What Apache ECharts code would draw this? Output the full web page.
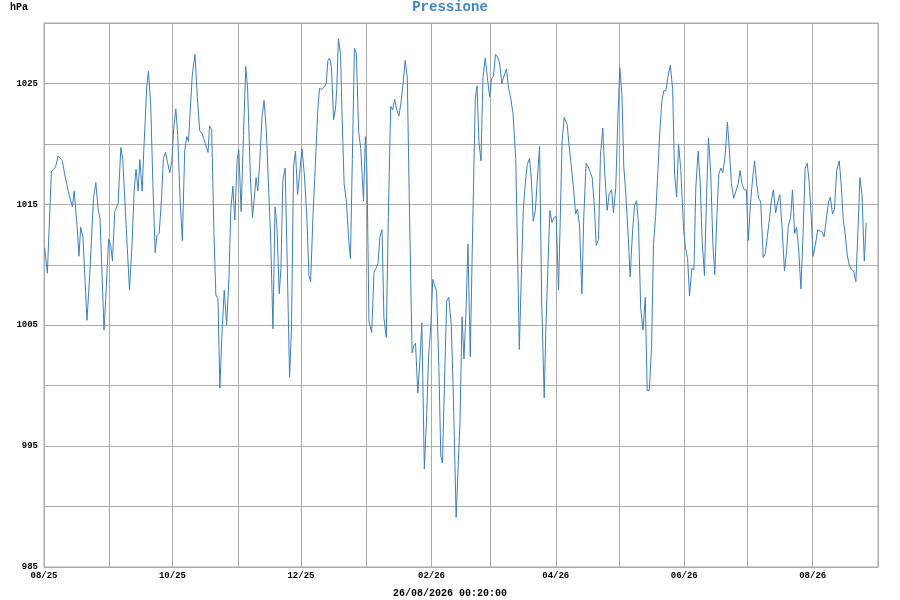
<!DOCTYPE html>
<html>
<head>
  <meta charset="utf-8">
  <title>Pressione</title>
  <script src="https://cdn.jsdelivr.net/npm/echarts@6/dist/echarts.min.js"></script>
  <style>
    html, body { margin: 0; padding: 0; background: #fff; }
    #main { width: 900px; height: 600px; }
  </style>
</head>
<body>
<div id="main"></div>
<script>
  // giorni dal 01/08/2025
  var days = [
    0.3, 1.6, 3.5, 4.4, 5.5, 6.7, 7.6, 8.7, 9.8, 11.9, 13.5, 14.3, 15.5, 16.6, 17.4, 18.5, 20.4, 21.7, 23.5, 24.6,
    25.7, 26.6, 28.5, 29.6, 30.7, 31.7, 32.5, 33.6, 35.2, 36.5, 37.4, 39.1, 40.6, 41.8, 42.8, 43.7, 44.7, 45.5, 46.6, 47.5,
    48.8, 49.6, 50.7, 51.7, 52.8, 53.6, 54.7, 55.8, 56.7, 57.7, 59.7,
    60.7, 61.6, 62.6, 63.5, 64.6, 65.7, 66.8, 67.8, 68.6, 69.5, 70.4, 71.7, 72.8, 73.9, 75.2, 76.1, 77.9, 78.6, 79.6, 80.7,
    81.6, 82.6, 83.5, 84.6, 85.6, 86.7, 87.8, 88.7, 89.7, 90.6, 91.7, 92.5, 93.6, 94.7, 95.8, 96.7, 98.0, 99.0, 99.7, 100.7,
    101.5, 102.4, 103.5, 104.5, 105.6, 106.7, 107.6, 108.7, 109.7, 110.6, 111.7, 112.5, 113.4, 114.5, 115.5, 116.6, 117.5, 118.5, 119.4, 120.4,
    121.3,
    122.5, 123.6, 124.8, 125.8, 126.6, 127.7, 128.8, 129.9, 130.8, 131.9, 133.0, 134.0, 134.8, 135.6, 136.5, 137.5, 138.4, 139.0, 139.8, 140.8,
    141.6, 142.5, 143.6, 144.7, 145.5, 146.4, 147.4, 148.3, 149.4, 150.4, 151.7, 152.6, 153.4, 154.3, 155.6, 156.7, 157.6, 158.6, 159.5, 160.5,
    161.4, 162.5, 163.5, 164.6, 165.5, 166.5, 167.4, 168.5, 169.5, 170.6, 171.5, 172.5, 173.4, 174.4, 174.8, 175.6, 176.4, 177.5, 178.5, 179.4,
    180.6, 181.7, 182.6, 183.7, 184.6, 185.5, 186.4,
    187.5, 188.4, 189.2, 190.3, 191.2, 192.2, 193.4, 194.4, 195.7, 196.6, 197.5, 198.5, 199.4, 200.4, 201.3, 202.4, 203.4, 204.2, 204.8, 205.6,
    206.5, 207.5, 208.4, 209.5, 210.5, 211.6, 212.5, 213.4, 214.4, 215.3, 216.3, 217.4, 218.6, 219.6, 220.5, 221.6, 222.7, 224.0, 224.8, 225.7,
    226.7, 227.6, 228.6, 229.5, 230.5, 231.4, 232.3, 233.3, 234.4, 235.3, 236.3, 237.5, 238.3, 239.3, 240.2, 241.2, 242.1, 243.2, 244.3, 245.1,
    246.0, 247.0,
    248.4, 249.3, 250.4, 251.4, 252.4, 253.3, 254.3, 255.4, 256.3, 257.4, 258.4, 259.3, 260.3, 261.4, 262.2, 263.3, 264.2, 265.3, 266.3, 267.4,
    268.4, 269.5, 270.4, 271.5, 272.5, 273.4, 274.4, 275.3, 276.3, 277.4, 278.3, 279.5, 280.4, 281.4, 282.3, 283.3, 284.4, 285.5, 286.4, 287.4,
    288.5, 289.4, 290.4, 291.5, 292.4, 293.4, 294.3, 295.3, 296.2, 297.4, 298.5, 299.4, 300.4, 301.3, 302.4,
    303.7, 304.6, 305.6, 306.5, 307.6, 308.6, 309.5, 310.6, 311.6, 312.5, 313.6, 314.6, 315.5, 316.6, 317.6, 318.5, 319.5, 320.4, 321.4, 322.3,
    323.4, 324.5, 325.5, 326.4, 327.5, 328.4, 329.6, 330.5, 331.4, 332.5, 333.5, 334.4, 335.5, 336.5, 337.4, 338.4, 339.3, 340.3, 341.5, 342.5,
    343.4, 344.4, 345.3, 346.3, 347.4, 348.3, 349.4, 350.5, 351.6, 352.6, 353.4, 354.5, 355.4, 356.4, 357.3, 358.3, 359.4, 360.5, 361.4, 362.4,
    363.3, 364.3,
    365.2, 366.3, 367.4, 368.3, 369.5, 370.4, 371.2, 372.5, 373.4, 374.4, 375.3, 376.4, 377.6, 378.5, 379.5, 380.4, 381.4, 382.3, 383.3, 384.4,
    385.5, 386.5, 387.4, 388.4, 389.5, 390.4
  ];

  // pressione in hPa
  var hpa = [
    1011.4, 1009.3, 1017.7, 1017.6, 1018.1, 1019.0, 1018.9, 1018.6, 1017.5, 1015.8, 1014.8, 1016.1, 1013.7, 1010.7, 1013.1, 1012.3, 1005.4, 1009.1, 1015.5, 1016.8,
    1014.6, 1013.8, 1004.6, 1008.2, 1012.1, 1011.6, 1010.3, 1014.4, 1015.1, 1019.7, 1018.7, 1012.9, 1007.9, 1011.7, 1016.1, 1017.9, 1016.1, 1018.7, 1016.1, 1019.9,
    1024.8, 1026.0, 1023.1, 1016.7, 1011.0, 1012.4, 1012.6, 1015.5, 1018.8, 1019.3, 1017.6,
    1018.6, 1021.3, 1022.9, 1020.7, 1015.5, 1012.0, 1019.4, 1020.6, 1020.2, 1020.1, 1025.7, 1027.4, 1023.9, 1021.1, 1020.8, 1020.7, 1019.3, 1021.5, 1021.2, 1012.6,
    1007.5, 1007.2, 999.8, 1004.7, 1007.9, 1005.0, 1008.8, 1014.6, 1016.5, 1013.7, 1018.7, 1019.5, 1014.4, 1020.7, 1026.4, 1024.5, 1017.2, 1013.9, 1013.8, 1017.2,
    1016.1, 1018.4, 1022.2, 1023.6, 1021.0, 1016.1, 1012.3, 1004.7, 1014.8, 1013.2, 1007.6, 1009.7, 1016.9, 1018.0, 1010.0, 1000.7, 1004.7, 1018.1, 1019.4, 1015.8,
    1015.8,
    1019.6, 1017.5, 1014.0, 1009.1, 1008.6, 1014.0, 1018.1, 1022.5, 1024.6, 1024.5, 1024.7, 1025.0, 1026.9, 1027.1, 1026.3, 1022.0, 1022.9, 1024.5, 1028.7, 1027.4,
    1021.9, 1016.7, 1015.2, 1012.0, 1010.5, 1018.7, 1027.9, 1027.5, 1021.0, 1019.6, 1015.3, 1020.6, 1017.2, 1005.3, 1004.4, 1009.4, 1009.7, 1010.1, 1012.3, 1012.9,
    1005.6, 1004.0, 1014.0, 1023.1, 1022.8, 1023.7, 1022.9, 1022.3, 1023.4, 1025.2, 1026.9, 1025.5, 1015.8, 1006.2, 1002.7, 1003.3, 1003.5, 999.4, 1002.1, 1005.2,
    993.1, 997.5, 1002.4, 1005.0, 1008.8, 1008.7, 1007.8,
    1001.5, 994.2, 993.6, 1001.2, 1007.0, 1007.3, 1005.0, 998.9, 989.1, 993.1, 996.9, 1005.7, 1002.2, 1006.2, 1011.7, 1002.4, 1011.7, 1018.7, 1023.8, 1024.8,
    1020.2, 1018.6, 1025.4, 1027.1, 1025.5, 1023.9, 1025.4, 1025.6, 1027.4, 1027.2, 1026.7, 1025.0, 1025.7, 1026.2, 1024.7, 1023.8, 1022.5, 1018.7, 1011.4, 1003.0,
    1009.4, 1014.6, 1016.9, 1018.3, 1018.8, 1017.1, 1013.6, 1014.5, 1017.5, 1019.8, 1007.0, 999.0, 1004.7, 1010.0, 1014.5, 1013.5, 1013.9, 1014.0, 1007.9, 1013.5,
    1020.2, 1022.2,
    1021.6, 1019.9, 1018.1, 1016.4, 1014.2, 1014.6, 1013.2, 1007.6, 1014.0, 1018.4, 1018.1, 1018.1, 1017.2, 1014.6, 1011.6, 1012.1, 1019.0, 1021.3, 1017.5, 1014.5,
    1015.9, 1016.2, 1014.3, 1016.4, 1022.2, 1026.3, 1024.1, 1018.1, 1015.8, 1012.3, 1009.0, 1012.9, 1014.9, 1015.3, 1013.2, 1006.5, 1004.6, 1007.3, 999.6, 999.6,
    1003.3, 1011.7, 1014.0, 1017.8, 1021.0, 1023.6, 1024.4, 1024.4, 1025.5, 1026.5, 1024.5, 1017.5, 1015.6, 1020.0, 1017.8,
    1012.9, 1011.4, 1010.5, 1007.4, 1009.7, 1009.6, 1016.4, 1019.4, 1016.7, 1012.0, 1009.1, 1015.8, 1020.5, 1017.5, 1011.7, 1009.2, 1014.0, 1017.5, 1018.0, 1017.6,
    1019.0, 1021.8, 1019.3, 1016.7, 1015.5, 1015.5, 1016.7, 1017.8, 1016.7, 1016.2, 1016.2, 1012.0, 1015.2, 1017.2, 1018.6, 1016.7, 1015.5, 1015.2, 1010.6, 1010.9,
    1012.3, 1013.7, 1015.2, 1016.2, 1014.3, 1015.1, 1015.8, 1012.9, 1009.5, 1011.1, 1013.2, 1013.9, 1016.2, 1012.6, 1013.1, 1011.4, 1008.0, 1012.9, 1018.0, 1018.4,
    1016.9, 1014.0,
    1010.7, 1011.7, 1012.9, 1013.0, 1012.7, 1012.3, 1012.4, 1015.2, 1015.6, 1014.2, 1014.6, 1017.8, 1018.6, 1016.7, 1013.7, 1012.6, 1010.8, 1010.0, 1009.6, 1009.5,
    1008.6, 1012.9, 1017.2, 1015.8, 1010.3, 1013.5
  ];

  var yTicks = [985, 995, 1005, 1015, 1025];
  var updated = '26/08/2026 00:20:00';

  // un giorno per categoria, dal 01/08/2025 al 01/09/2026
  var totalDays = 396;
  var t0 = Date.UTC(2025, 7, 1);
  var dayNames = [];
  for (var i = 0; i <= totalDays; i++) {
    dayNames.push(new Date(t0 + i * 86400000).toISOString().slice(0, 10));
  }
  function isMonthStart(idx, val) { return val.slice(8) === '01'; }
  function isLabelMonth(idx, val) { return val.slice(8) === '01' && (+val.slice(5, 7)) % 2 === 0; }

  var points = [];
  for (var k = 0; k < days.length; k++) points.push([days[k], hpa[k]]);

  var gridColor = '#ababab';
  var mono = 'Liberation Mono';

  var myChart = echarts.init(document.getElementById('main'));
  myChart.setOption({
    animation: false,
    title: [
      { text: 'Pressione', left: 'center', top: 0, padding: 0,
        textStyle: { fontFamily: mono, fontWeight: 'bold', fontSize: 14, color: '#3c85c6' } },
      { text: 'hPa', left: 10, top: 2, padding: 0,
        textStyle: { fontFamily: mono, fontWeight: 'bold', fontSize: 10, color: '#000' } },
      { text: updated, left: 'center', top: 588, padding: 0,
        textStyle: { fontFamily: mono, fontWeight: 'bold', fontSize: 10, color: '#000' } }
    ],
    grid: { left: 44, right: 22, top: 23, bottom: 33, show: true, borderColor: gridColor, borderWidth: 1 },
    xAxis: [
      { type: 'value', min: 0, max: totalDays, show: false },
      {
        type: 'category', data: dayNames, boundaryGap: false, position: 'bottom',
        axisLine: { show: true, lineStyle: { color: gridColor } },
        axisTick: { show: false, interval: isMonthStart },
        splitLine: { show: true, interval: isMonthStart, lineStyle: { color: gridColor, width: 1 } },
        axisLabel: {
          interval: isLabelMonth, margin: 4, color: '#000', fontFamily: mono, fontWeight: 'bold', fontSize: 9,
          formatter: function (v) { return v.slice(5, 7) + '/' + v.slice(2, 4); }
        }
      }
    ],
    yAxis: {
      type: 'value', min: 985, max: 1030, interval: 5,
      axisLine: { show: true, lineStyle: { color: gridColor } },
      axisTick: { show: false },
      splitLine: { show: true, lineStyle: { color: gridColor, width: 1 } },
      axisLabel: {
        margin: 6, color: '#000', fontFamily: mono, fontWeight: 'bold', fontSize: 9,
        formatter: function (v) { return yTicks.indexOf(v) >= 0 ? String(v) : ''; }
      }
    },
    series: [{
      type: 'line', xAxisIndex: 0, data: points, showSymbol: false, symbol: 'none',
      lineStyle: { color: '#3d7fbd', width: 1 }
    }]
  });
</script>
</body>
</html>
